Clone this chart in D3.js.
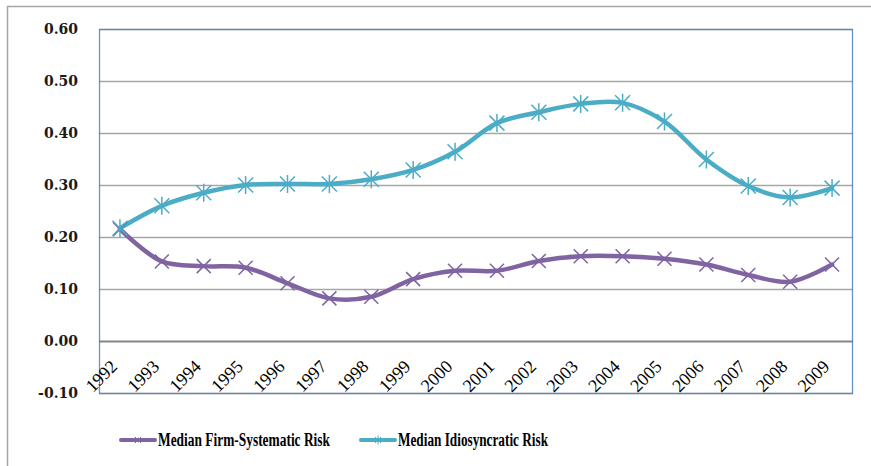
<!DOCTYPE html>
<html>
<head>
<meta charset="utf-8">
<script src="https://d3js.org/d3.v7.min.js"></script>
<style>
  body { margin: 0; background: #fff; }
  svg { display: block; }
</style>
</head>
<body>
<div id="chart"></div>
<script>
// data
const years = ["1992","1993","1994","1995","1996","1997","1998","1999","2000",
               "2001","2002","2003","2004","2005","2006","2007","2008","2009"];
const firmSystematic = [0.215, 0.153, 0.144, 0.141, 0.111, 0.082, 0.085, 0.119, 0.135,
                        0.135, 0.154, 0.163, 0.163, 0.158, 0.147, 0.127, 0.114, 0.147];
const idiosyncratic = [0.217, 0.26, 0.285, 0.30, 0.302, 0.302, 0.311, 0.329, 0.364,
                       0.419, 0.44, 0.456, 0.458, 0.422, 0.349, 0.298, 0.276, 0.294];
const yTicks = [-0.1, 0, 0.1, 0.2, 0.3, 0.4, 0.5, 0.6];
const seriesNames = ["Median Firm-Systematic Risk", "Median Idiosyncratic Risk"];

const width = 871, height = 466;
const plot = {left: 99, top: 29, right: 853, bottom: 393};

const svg = d3.select("#chart").append("svg")
    .attr("width", width)
    .attr("height", height);

// outer chart frame (runs off the right/bottom edge)
svg.append("rect")
    .attr("x", 7.5).attr("y", 6.5)
    .attr("width", 900).attr("height", 500)
    .attr("fill", "none")
    .attr("stroke", "#a6a6a6")
    .attr("stroke-width", 1.5);

let x = d3.scaleBand()
    .domain(years)
    .range([plot.left, plot.right]);

let y = d3.scaleLinear()
    .domain([-0.1, 0.6])
    .range([plot.bottom, plot.top]);

// gridlines
svg.append("g")
    .selectAll("line")
    .data(yTicks)
    .enter()
    .append("line")
      .attr("x1", plot.left).attr("x2", plot.right)
      .attr("y1", d => Math.round(y(d)) + 0.5)
      .attr("y2", d => Math.round(y(d)) + 0.5)
      .attr("stroke", d => d === 0 ? "#868686" : "#a6a6a6")
      .attr("stroke-width", d => d === 0 ? 2 : 1.3);

// plot area border
svg.append("rect")
    .attr("x", plot.left + 0.5).attr("y", plot.top + 0.5)
    .attr("width", plot.right - plot.left - 1)
    .attr("height", plot.bottom - plot.top)
    .attr("fill", "none")
    .attr("stroke", "#4f81bd")
    .attr("stroke-opacity", 0.85)
    .attr("stroke-width", 1.3);

// y axis labels (hyphen minus like the original)
svg.append("g")
    .attr("transform", `translate(${plot.left - 21},0)`)
    .call(d3.axisLeft(y).tickValues(yTicks).tickFormat(d => d.toFixed(2)).tickSize(0).tickPadding(0))
    .call(g => g.select(".domain").remove())
    .selectAll("text")
      .attr("font-family", "DejaVu Serif")
      .attr("font-weight", "bold")
      .attr("font-size", 14)
      .attr("fill", "#1a1a1a");

// x axis labels, rotated, sitting above the bottom edge
svg.append("g")
    .selectAll("text")
    .data(years)
    .enter()
    .append("text")
      .attr("transform", d => `translate(${x(d) + x.bandwidth() / 2 - 27},${plot.bottom}) rotate(-45)`)
      .attr("font-family", "Liberation Serif, serif")
      .attr("font-size", 18)
      .attr("fill", "#000")
      .text(d => d);

const colors = ["#8064a2", "#4bacc6"];
const allSeries = [firmSystematic, idiosyncratic];

let line = d3.line()
    .x((d, i) => x(years[i]) + x.bandwidth() / 2)
    .y(d => y(d))
    .curve(d3.curveCatmullRom.alpha(0.5));

allSeries.forEach(function (vals, s) {
    svg.append("path")
        .datum(vals)
        .attr("d", line)
        .attr("fill", "none")
        .attr("stroke", colors[s])
        .attr("stroke-width", 4.5)
        .attr("stroke-linejoin", "round")
        .attr("stroke-linecap", "round");
});

// markers: X for purple, asterisk for cyan
function marker(g, cx, cy, r, star, color, w) {
    g.append("path")
        .attr("d", `M${cx - r},${cy - r}L${cx + r},${cy + r}M${cx - r},${cy + r}L${cx + r},${cy - r}` +
            (star ? `M${cx},${cy - r - 1.5}L${cx},${cy + r + 1.5}` : ""))
        .attr("stroke", color)
        .attr("stroke-width", w)
        .attr("fill", "none");
}

allSeries.forEach(function (vals, s) {
    let g = svg.append("g");
    vals.forEach(function (v, i) {
        marker(g, x(years[i]) + x.bandwidth() / 2, y(v), s === 1 ? 7.5 : 7, s === 1, colors[s], 1.5);
    });
});

// legend
const legendX = [121, 361];
const legendW = [172, 150];
seriesNames.forEach(function (name, s) {
    let g = svg.append("g").attr("transform", `translate(${legendX[s]},440)`);
    g.append("line")
        .attr("x1", 0).attr("x2", 34)
        .attr("y1", 0).attr("y2", 0)
        .attr("stroke", colors[s])
        .attr("stroke-width", 4)
        .attr("stroke-linecap", "round");
    marker(g, 17, 0, 3, s === 1, colors[s], 1);
    g.append("text")
        .attr("x", 37).attr("y", 6)
        .attr("font-family", "Liberation Serif, serif")
        .attr("font-weight", "bold")
        .attr("font-size", 18)
        .attr("textLength", legendW[s])
        .attr("lengthAdjust", "spacingAndGlyphs")
        .attr("fill", "#000")
        .text(name);
});
</script>
</body>
</html>
